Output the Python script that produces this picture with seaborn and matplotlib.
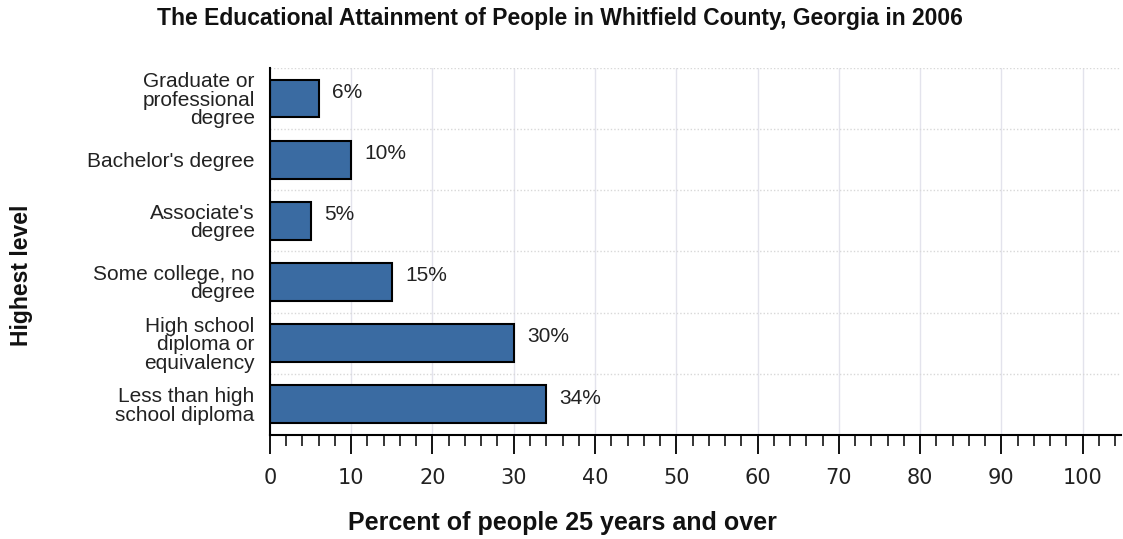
import matplotlib
matplotlib.use("Agg")
import numpy as np
import pandas as pd
import seaborn as sns
import matplotlib.pyplot as plt
from matplotlib.ticker import MultipleLocator

# Educational attainment, Whitfield County, Georgia, 2006
levels = [
    "Graduate or\nprofessional\ndegree",
    "Bachelor's degree",
    "Associate's\ndegree",
    "Some college, no\ndegree",
    "High school\ndiploma or\nequivalency",
    "Less than high\nschool diploma",
]
percents = [6, 10, 5, 15, 30, 34]

title = "The Educational Attainment of People in Whitfield County, Georgia in 2006"
x_title = "Percent of people 25 years and over"
y_title = "Highest level"

sns.set_theme(style="white")
plt.rcParams["font.family"] = ["Liberation Sans", "DejaVu Sans"]

df = pd.DataFrame({"level": levels, "pct": percents})

fig = plt.figure(figsize=(11.23, 5.39), dpi=100)
ax = fig.add_axes([0.2404, 0.193, 0.7576, 0.681])

sns.barplot(data=df, x="pct", y="level", orient="h", color="#3A6BA2",
            saturation=1, edgecolor="black", linewidth=1.5, width=0.62, ax=ax)

ax.set_xlim(0, 104.7)
ax.set_xlabel("")
ax.set_ylabel("")

# grid: solid verticals at every 10, dotted horizontals between categories
ax.set_axisbelow(True)
ax.xaxis.set_major_locator(MultipleLocator(10))
ax.xaxis.set_minor_locator(MultipleLocator(2))
ax.grid(axis="x", which="major", color="#e3e3ec", linewidth=1.0)
ax.set_yticks(np.arange(-0.5, len(levels), 1.0), minor=True)
ax.grid(axis="y", which="minor", color="#d8d8d8", linewidth=1.0,
        linestyle=(0, (1, 1.5)))
ax.grid(axis="y", which="major", visible=False)

for side in ("top", "right"):
    ax.spines[side].set_visible(False)
for side in ("left", "bottom"):
    ax.spines[side].set_color("black")
    ax.spines[side].set_linewidth(1.5)

ax.tick_params(axis="x", which="both", bottom=True, direction="out",
               color="black")
ax.tick_params(axis="x", which="major", length=14, width=1.3, pad=10,
               labelsize=15, labelcolor="#222222")
ax.tick_params(axis="x", which="minor", length=8, width=1.1)
ax.tick_params(axis="y", which="both", left=False, length=0, pad=11,
               labelsize=15, labelcolor="#222222")
for lbl in ax.get_xticklabels():
    lbl.set_family(["Liberation Sans Narrow", "DejaVu Sans"])
for lbl in ax.get_yticklabels():
    lbl.set_linespacing(0.95)

# value labels
for i, v in enumerate(percents):
    ax.annotate(f"{v}%", xy=(v, i), xytext=(9.5, 4.5), textcoords="offset points",
                ha="left", va="center", fontsize=15, color="#222222")

fig.text(0.499, 0.965, title, ha="center", va="center", fontsize=16.5,
         fontweight="bold", color="#111111")
fig.text(0.501, 0.030, x_title, ha="center", va="center", fontsize=18,
         fontweight="bold", color="#111111")
fig.text(0.019, 0.49, y_title, ha="center", va="center", rotation=90,
         fontsize=16.5, fontweight="bold", color="#111111")

fig.savefig("out.png", dpi=100)
